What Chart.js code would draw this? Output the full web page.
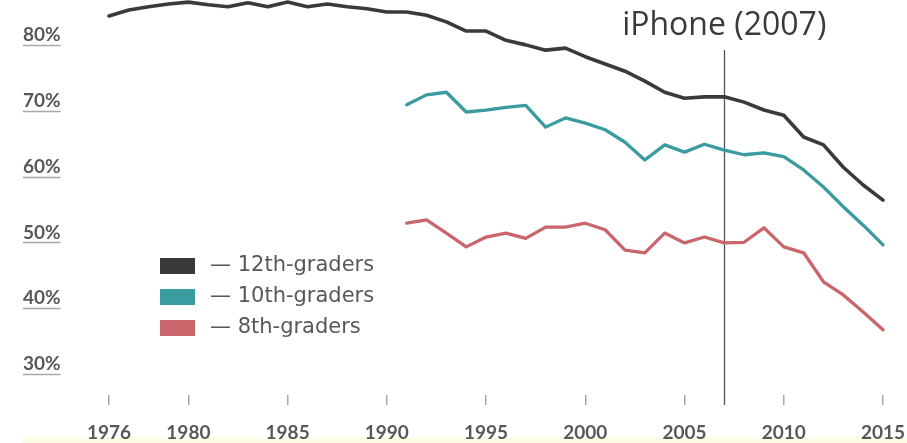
<!DOCTYPE html>
<html>
<head>
<meta charset="utf-8">
<script src="https://cdn.jsdelivr.net/npm/chart.js@4.4.1/dist/chart.umd.min.js"></script>
<style>
  html, body { margin: 0; padding: 0; background: #fff; }
  #wrap { position: relative; width: 907px; height: 443px; }
</style>
</head>
<body>
<div id="wrap"><canvas id="chart"></canvas></div>
<script>
/* Teens share by grade, 1976-2015, with the iPhone marker */
const years = [
  1976, 1977, 1978, 1979, 1980, 1981, 1982, 1983, 1984, 1985,
  1986, 1987, 1988, 1989, 1990, 1991, 1992, 1993, 1994, 1995,
  1996, 1997, 1998, 1999, 2000, 2001, 2002, 2003, 2004, 2005,
  2006, 2007, 2008, 2009, 2010, 2011, 2012, 2013, 2014, 2015
];
const grade12 = [
  82.9, 83.8, 84.3, 84.7, 85.0, 84.6, 84.3, 84.9, 84.3, 85.0,
  84.3, 84.7, 84.3, 84.0, 83.5, 83.5, 83.0, 82.0, 80.6, 80.6,
  79.2, 78.5, 77.7, 78.0, 76.7, 75.6, 74.5, 73.0, 71.3, 70.4,
  70.6, 70.6, 69.8, 68.6, 67.8, 64.5, 63.3, 59.9, 57.2, 54.9
];
const grade10 = [
  null, null, null, null, null, null, null, null, null, null,
  null, null, null, null, null, 69.4, 70.9, 71.3, 68.3, 68.6,
  69.0, 69.3, 66.0, 67.4, 66.6, 65.6, 63.7, 61.0, 63.3, 62.2,
  63.4, 62.5, 61.8, 62.1, 61.5, 59.5, 56.9, 53.9, 51.1, 48.1
];
const grade8 = [
  null, null, null, null, null, null, null, null, null, null,
  null, null, null, null, null, 51.4, 51.9, 49.9, 47.8, 49.3,
  49.9, 49.1, 50.8, 50.8, 51.4, 50.4, 47.3, 46.9, 49.9, 48.4,
  49.3, 48.4, 48.5, 50.7, 47.8, 46.9, 42.5, 40.5, 37.9, 35.2
];
const seriesNames = ['12th-graders', '10th-graders', '8th-graders'];
const xTicks = [1976, 1980, 1985, 1990, 1995, 2000, 2005, 2010, 2015];
const yTicks = [30, 40, 50, 60, 70, 80];
const iphoneYear = 2007;
const iphoneLabel = 'iPhone (2007)';

const colors = ['#3a3a3a', '#3a9ba1', '#c9666b'];
const textGray = '#585858';
const axisFont = { family: "Lato, sans-serif", size: 19, weight: 'bold' };

const toPoints = (arr) => years.map((yr, i) => ({ x: yr, y: arr[i] }));

const decor = {
  id: 'decor',
  beforeDraw(chart) {
    const { ctx, width, height } = chart;
    ctx.save();
    ctx.fillStyle = '#fcfbe3';
    ctx.fillRect(23, height - 6, width - 23, 6);
    ctx.restore();
  },
  beforeDatasetsDraw(chart) {
    const { ctx, scales: { x } } = chart;
    const px = Math.round(x.getPixelForValue(iphoneYear)) + 0.5;
    ctx.save();
    ctx.strokeStyle = '#555';
    ctx.lineWidth = 1.3;
    ctx.beginPath();
    ctx.moveTo(px, 50);
    ctx.lineTo(px, 405);
    ctx.stroke();
    ctx.restore();
  },
  afterDraw(chart) {
    const { ctx, scales: { x, y } } = chart;
    ctx.save();

    // short rules under the y labels
    ctx.font = `bold ${axisFont.size}px ${axisFont.family}`;
    ctx.strokeStyle = '#a8a8a8';
    ctx.lineWidth = 1.5;
    yTicks.forEach((v) => {
      const py = Math.round(y.getPixelForValue(v)) + 10.5;
      const w = ctx.measureText(v + '%').width;
      ctx.beginPath();
      ctx.moveTo(y.left, py);
      ctx.lineTo(y.left + w, py);
      ctx.stroke();
    });

    // iPhone label
    const px = x.getPixelForValue(iphoneYear);
    ctx.font = "32px 'Open Sans', sans-serif";
    ctx.fillStyle = '#3a3a3a';
    ctx.textAlign = 'center';
    ctx.textBaseline = 'alphabetic';
    ctx.fillText(iphoneLabel, px, 35);

    // legend
    ctx.font = "21px 'DejaVu Sans', sans-serif";
    ctx.textAlign = 'left';
    ctx.textBaseline = 'middle';
    chart.data.datasets.forEach((ds, i) => {
      const cy = 266 + i * 31;
      ctx.fillStyle = ds.borderColor;
      ctx.fillRect(160, cy - 8, 35, 16);
      ctx.fillStyle = textGray;
      ctx.fillText('\u2014 ' + ds.label, 210, cy);
    });
    ctx.restore();
  }
};

new Chart(document.getElementById('chart'), {
  type: 'line',
  data: {
    datasets: [grade12, grade10, grade8].map((arr, i) => ({
      label: seriesNames[i],
      data: toPoints(arr),
      borderColor: colors[i],
      borderWidth: i === 0 ? 3.6 : 3.3,
      pointRadius: 0,
      tension: 0,
      borderJoinStyle: 'round',
      borderCapStyle: 'round',
      clip: false,
    })),
  },
  options: {
    responsive: true,
    maintainAspectRatio: false,
    animation: false,
    layout: { padding: { left: 23, right: 24, top: 0, bottom: 0 } },
    plugins: {
      legend: { display: false },
      tooltip: { enabled: false },
    },
    scales: {
      x: {
        type: 'linear',
        min: 1976,
        max: 2015,
        afterBuildTicks: (s) => { s.ticks = xTicks.map((v) => ({ value: v })); },
        afterFit: (s) => { s.height = 48; s.paddingLeft = 0; s.paddingRight = 0; },
        grid: { drawOnChartArea: false, tickLength: 10, color: '#a8a8a8', lineWidth: 1.5 },
        border: { display: false },
        ticks: {
          color: textGray,
          font: axisFont,
          padding: 16,
          maxRotation: 0,
          autoSkip: false,
          callback: (v) => String(v),
        },
      },
      y: {
        min: 25.29,
        max: 85.32,
        afterBuildTicks: (s) => { s.ticks = yTicks.map((v) => ({ value: v })); },
        afterFit: (s) => { s.width = 86; s.paddingTop = 0; s.paddingBottom = 0; },
        grid: { display: false },
        border: { display: false },
        ticks: {
          color: textGray,
          font: axisFont,
          crossAlign: 'far',
          callback: (v) => v + '%',
        },
      },
    },
  },
  plugins: [decor],
});
</script>
</body>
</html>
